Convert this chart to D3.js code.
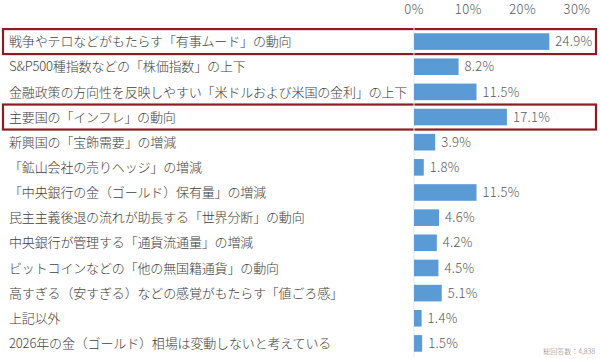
<!DOCTYPE html>
<html>
<head>
<meta charset="utf-8">
<script src="https://cdn.jsdelivr.net/npm/d3@7"></script>
<style>
  body { margin: 0; background: #fff; }
  text { font-family: "Noto Sans CJK JP", sans-serif; font-weight: 300; }
</style>
</head>
<body>
<svg id="chart" width="600" height="359"></svg>
<script>
var categories = [
  "戦争やテロなどがもたらす「有事ムード」の動向",
  "S&P500種指数などの「株価指数」の上下",
  "金融政策の方向性を反映しやすい「米ドルおよび米国の金利」の上下",
  "主要国の「インフレ」の動向",
  "新興国の「宝飾需要」の増減",
  "「鉱山会社の売りヘッジ」の増減",
  "「中央銀行の金（ゴールド）保有量」の増減",
  "民主主義後退の流れが助長する「世界分断」の動向",
  "中央銀行が管理する「通貨流通量」の増減",
  "ビットコインなどの「他の無国籍通貨」の動向",
  "高すぎる（安すぎる）などの感覚がもたらす「値ごろ感」",
  "上記以外",
  "2026年の金（ゴールド）相場は変動しないと考えている"
];
var values = [24.9, 8.2, 11.5, 17.1, 3.9, 1.8, 11.5, 4.6, 4.2, 4.5, 5.1, 1.4, 1.5];
var tickValues = [0, 10, 20, 30];
var highlighted = [0, 3];
var note = "総回答数：4,838";

var svg = d3.select("#chart");

var x = d3.scaleLinear().domain([0, 30]).range([414, 577]);
var y = d3.scaleBand().domain(d3.range(categories.length)).range([29, 356]).paddingInner(0.34).paddingOuter(0.17);

// highlight boxes
svg.selectAll(".hl").data(highlighted).enter().append("rect")
  .attr("x", 3)
  .attr("y", function(d){ return y(d) + y.bandwidth()/2 - 12.5; })
  .attr("width", 593)
  .attr("height", 25)
  .attr("fill", "none")
  .attr("stroke", "#8c1c22")
  .attr("stroke-width", 2.2);

// axis line
svg.append("line")
  .attr("x1", x(0)).attr("x2", x(0))
  .attr("y1", 26).attr("y2", 358)
  .attr("stroke", "#e3e8ee").attr("stroke-width", 1);

// top ticks
svg.selectAll(".tick").data(tickValues).enter().append("text")
  .attr("x", function(d){ return x(d); })
  .attr("y", 14)
  .attr("text-anchor", "middle")
  .attr("font-size", 13)
  .attr("letter-spacing", 0.5)
  .attr("fill", "#595959")
  .text(function(d){ return d + "%"; });

// bars
svg.selectAll(".bar").data(values).enter().append("rect")
  .attr("x", x(0))
  .attr("y", function(d, i){ return y(i); })
  .attr("width", function(d){ return x(d) - x(0); })
  .attr("height", y.bandwidth())
  .attr("fill", "#5b9bd5");

// value labels
svg.selectAll(".val").data(values).enter().append("text")
  .attr("x", function(d){ return x(d) + 6; })
  .attr("y", function(d, i){ return y(i) + y.bandwidth()/2; })
  .attr("dy", "0.36em")
  .attr("font-size", 13)
  .attr("letter-spacing", 0.3)
  .attr("fill", "#595959")
  .text(function(d){ return d.toFixed(1) + "%"; });

// category labels
svg.selectAll(".cat").data(categories).enter().append("text")
  .attr("x", 9)
  .attr("y", function(d, i){ return y(i) + y.bandwidth()/2; })
  .attr("dy", "0.36em")
  .attr("font-size", 13)
  .attr("letter-spacing", -0.15)
  .attr("fill", "#404040")
  .text(function(d){ return d; });

svg.append("text")
  .attr("x", 595).attr("y", 354)
  .attr("text-anchor", "end")
  .attr("font-size", 7)
  .attr("fill", "#808080")
  .text(note);
</script>
</body>
</html>
